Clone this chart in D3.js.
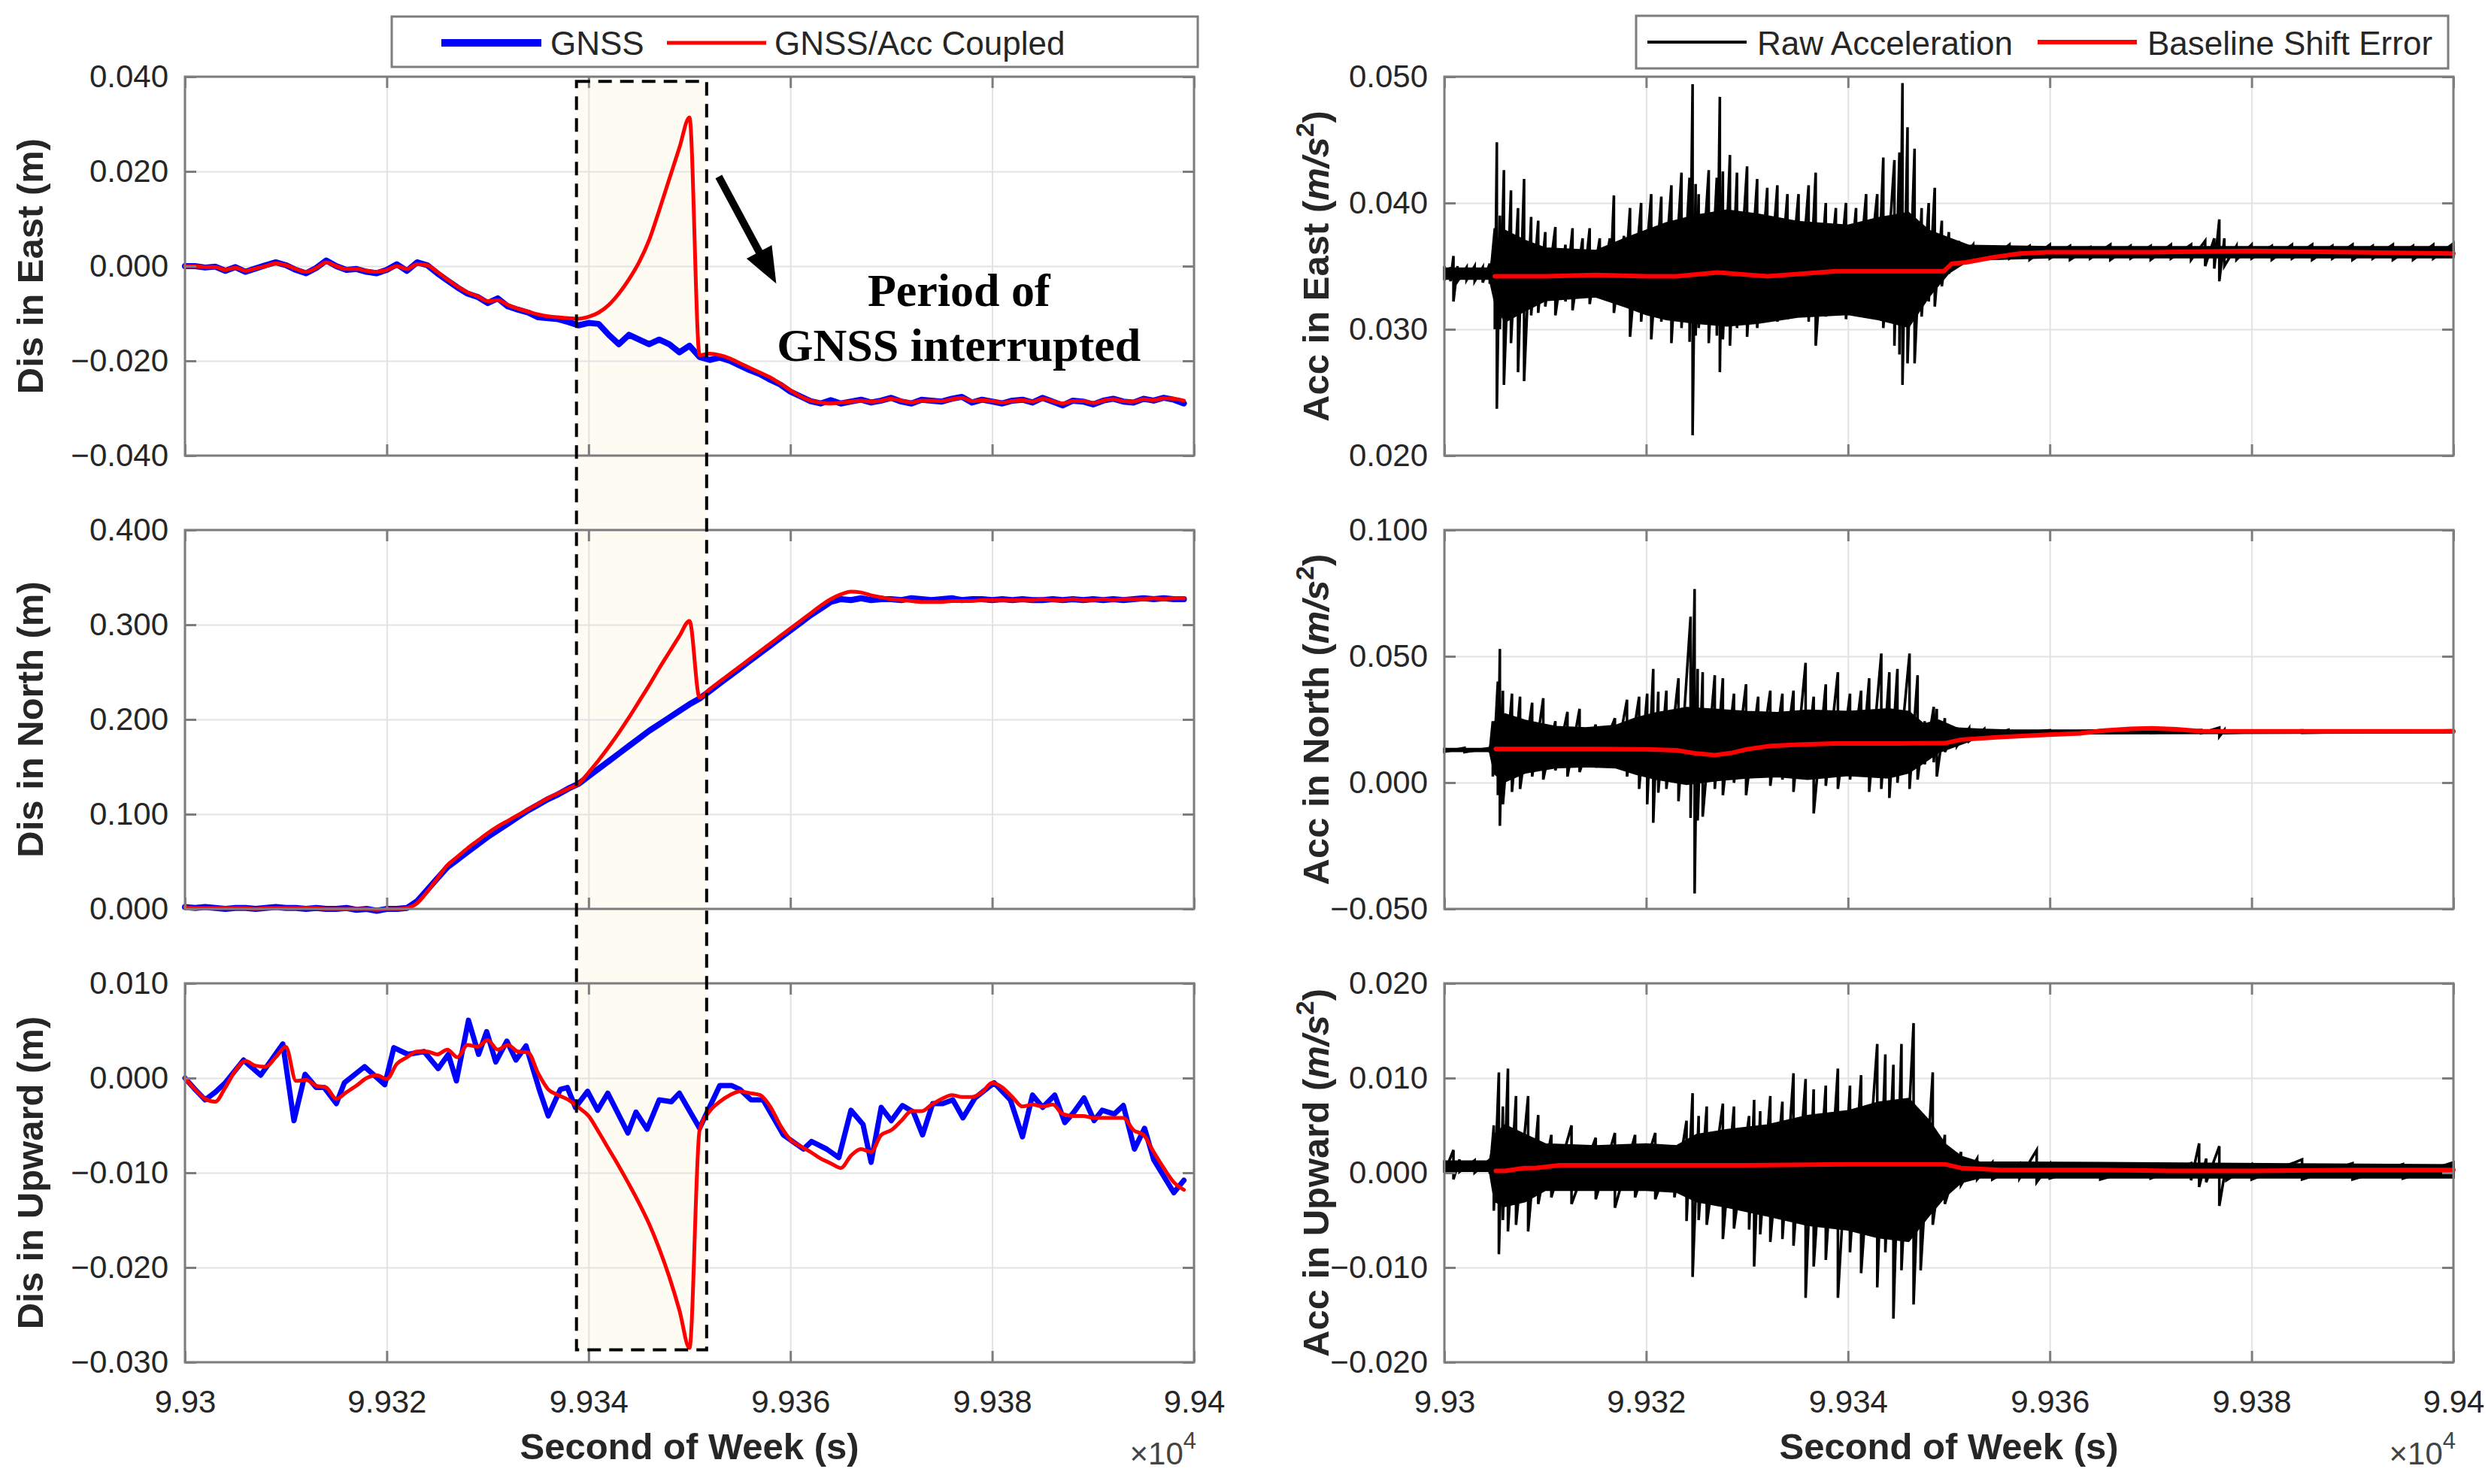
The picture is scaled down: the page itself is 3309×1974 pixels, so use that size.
<!DOCTYPE html>
<html><head><meta charset="utf-8">
<script src="https://cdn.jsdelivr.net/npm/d3@7"></script>
<style>body{margin:0;background:#fff}svg{display:block}</style>
</head><body><script>
// ---------------- DATA ----------------
const T0 = 99300;                       // second of week at axis origin
const xTicks = [99300, 99320, 99340, 99360, 99380, 99400];
const xTickLabels = ["9.93","9.932","9.934","9.936","9.938","9.94"];
const gnssEpochs = d3.range(0, 100);    // 1 Hz epochs, seconds after T0
const gap = [38.8, 51.7];               // GNSS interruption (s after T0)

const eastGnss = [
0.0000,0.0000,-0.0003,-0.0001,-0.0010,-0.0002,-0.0012,-0.0005,0.0002,0.0008,
0.0002,-0.0008,-0.0015,-0.0004,0.0012,0.0000,-0.0008,-0.0006,-0.0012,-0.0015,
-0.0008,0.0004,-0.0010,0.0008,0.0002,-0.0015,-0.0030,-0.0045,-0.0058,-0.0065,
-0.0078,-0.0068,-0.0085,-0.0092,-0.0098,-0.0108,-0.0110,-0.0112,-0.0118,-0.0125,
-0.0120,-0.0122,-0.0145,-0.0165,-0.0145,-0.0155,-0.0165,-0.0155,-0.0165,-0.0182,
-0.0168,-0.0192,-0.0198,-0.0193,-0.0200,-0.0210,-0.0220,-0.0228,-0.0240,-0.0250,
-0.0265,-0.0275,-0.0285,-0.0290,-0.0283,-0.0290,-0.0286,-0.0282,-0.0288,-0.0284,
-0.0278,-0.0286,-0.0290,-0.0282,-0.0284,-0.0286,-0.0280,-0.0276,-0.0288,-0.0282,
-0.0286,-0.0290,-0.0284,-0.0282,-0.0288,-0.0278,-0.0286,-0.0294,-0.0284,-0.0286,
-0.0292,-0.0284,-0.0280,-0.0286,-0.0288,-0.0280,-0.0284,-0.0278,-0.0282,-0.0290];
const eastCoupled = [
0.0000,0.0000,-0.0002,-0.0002,-0.0008,-0.0003,-0.0010,-0.0005,0.0000,0.0006,
0.0002,-0.0006,-0.0012,-0.0004,0.0008,0.0000,-0.0006,-0.0006,-0.0010,-0.0012,
-0.0008,0.0000,-0.0006,0.0004,0.0002,-0.0012,-0.0028,-0.0043,-0.0055,-0.0064,
-0.0074,-0.0072,-0.0082,-0.0090,-0.0096,-0.0102,-0.0106,-0.0108,-0.0110,-0.0111,
-0.0107,-0.0098,-0.0082,-0.0058,-0.0028,0.0008,0.0055,0.0118,0.0184,0.0250,
0.0314,-0.0188,-0.0185,-0.0188,-0.0195,-0.0205,-0.0215,-0.0225,-0.0235,-0.0248,
-0.0262,-0.0275,-0.0284,-0.0288,-0.0290,-0.0288,-0.0286,-0.0284,-0.0286,-0.0284,
-0.0280,-0.0284,-0.0288,-0.0284,-0.0284,-0.0285,-0.0281,-0.0278,-0.0285,-0.0283,
-0.0285,-0.0288,-0.0285,-0.0283,-0.0286,-0.0280,-0.0285,-0.0290,-0.0285,-0.0285,
-0.0289,-0.0284,-0.0281,-0.0285,-0.0286,-0.0281,-0.0283,-0.0279,-0.0280,-0.0284];

const northGnss = [
0.002,0.001,0.002,0.001,0.000,0.001,0.001,0.000,0.001,0.002,
0.001,0.001,0.000,0.001,0.000,0.000,0.001,-0.001,0.000,-0.002,
0.000,0.000,0.001,0.008,0.020,0.032,0.044,0.052,0.060,0.068,
0.076,0.083,0.090,0.097,0.104,0.110,0.116,0.121,0.127,0.132,
0.140,0.148,0.156,0.164,0.172,0.180,0.188,0.195,0.202,0.209,
0.216,0.222,0.230,0.238,0.246,0.254,0.262,0.270,0.278,0.286,
0.294,0.302,0.310,0.317,0.324,0.327,0.326,0.328,0.326,0.327,
0.327,0.326,0.328,0.327,0.326,0.327,0.328,0.326,0.327,0.327,
0.326,0.327,0.326,0.327,0.326,0.326,0.327,0.326,0.327,0.326,
0.327,0.326,0.327,0.326,0.327,0.328,0.327,0.328,0.327,0.327];
const northCoupled = [
0.002,0.001,0.001,0.001,0.001,0.001,0.001,0.000,0.001,0.001,
0.001,0.001,0.001,0.001,0.000,0.000,0.000,0.000,0.000,-0.001,
0.000,0.000,0.001,0.006,0.018,0.032,0.046,0.055,0.064,0.072,
0.080,0.087,0.093,0.099,0.105,0.111,0.117,0.122,0.127,0.132,
0.144,0.157,0.171,0.186,0.202,0.219,0.236,0.254,0.271,0.288,
0.304,0.223,0.232,0.240,0.248,0.256,0.264,0.272,0.280,0.288,
0.296,0.304,0.312,0.320,0.327,0.332,0.335,0.334,0.331,0.329,
0.327,0.326,0.325,0.324,0.324,0.324,0.325,0.325,0.325,0.326,
0.326,0.326,0.326,0.326,0.326,0.327,0.326,0.326,0.327,0.326,
0.326,0.327,0.326,0.327,0.327,0.327,0.328,0.327,0.328,0.328];

// Upward GNSS read as [s after T0, metres]
const upGnss = [
[0,0.0000],[1,-0.0012],[2,-0.0023],[3,-0.0015],[4,-0.0005],[5.8,0.0019],[7.5,0.0003],
[9.7,0.0036],[10.8,-0.0045],[11.9,0.0004],[13,-0.0010],[13.8,-0.0010],[15,-0.0027],
[15.8,-0.0005],[17.8,0.0012],[19.8,-0.0007],[20.7,0.0032],[22.1,0.0025],[23.7,0.0028],
[25.1,0.0010],[26.1,0.0025],[26.9,-0.0003],[28.1,0.0061],[29.1,0.0025],[29.9,0.0049],
[30.8,0.0017],[31.9,0.0039],[32.8,0.0019],[33.8,0.0034],[35.2,-0.0015],[36,-0.0040],
[37.2,-0.0012],[37.9,-0.0010],[38.7,-0.0031],[39.9,-0.0014],[40.9,-0.0034],[41.9,-0.0016],
[43.9,-0.0058],[44.7,-0.0036],[45.8,-0.0054],[47,-0.0023],[48.2,-0.0025],[49,-0.0016],
[51,-0.0053],[53,-0.0008],[54.2,-0.0008],[55,-0.0012],[56.1,-0.0023],[57.3,-0.0023],
[59.3,-0.0060],[61.3,-0.0075],[62.1,-0.0067],[63.6,-0.0075],[64.8,-0.0084],[66,-0.0034],
[67.2,-0.0049],[68,-0.0089],[69,-0.0031],[70,-0.0045],[71.1,-0.0029],[72.2,-0.0036],
[73.1,-0.0060],[74.1,-0.0027],[75.1,-0.0027],[76.1,-0.0023],[77.1,-0.0042],[78.3,-0.0021],
[80.2,-0.0005],[81.8,-0.0023],[83,-0.0062],[84,-0.0018],[85,-0.0031],[86.2,-0.0018],
[87.2,-0.0047],[88.1,-0.0036],[89.1,-0.0021],[90.1,-0.0045],[90.9,-0.0034],[92.1,-0.0038],
[93,-0.0029],[94.1,-0.0075],[95.1,-0.0053],[96,-0.0086],[98,-0.0121],[99,-0.0108]];
const upCoupled = [
0.0000,-0.0012,-0.0022,-0.0025,-0.0010,0.0008,0.0018,0.0013,0.0012,0.0022,
0.0033,-0.0003,-0.0002,-0.0008,-0.0010,-0.0022,-0.0015,-0.0008,0.0000,0.0003,
-0.0001,0.0015,0.0022,0.0028,0.0028,0.0025,0.0030,0.0022,0.0035,0.0033,
0.0040,0.0030,0.0035,0.0028,0.0027,0.0005,-0.0012,-0.0018,-0.0023,-0.0031,
-0.0040,-0.0057,-0.0075,-0.0093,-0.0112,-0.0132,-0.0154,-0.0180,-0.0210,-0.0245,
-0.0285,-0.0055,-0.0035,-0.0025,-0.0018,-0.0014,-0.0016,-0.0018,-0.0030,-0.0050,
-0.0065,-0.0072,-0.0078,-0.0085,-0.0090,-0.0095,-0.0082,-0.0075,-0.0078,-0.0060,
-0.0055,-0.0045,-0.0035,-0.0035,-0.0028,-0.0022,-0.0018,-0.0020,-0.0020,-0.0015,
-0.0005,-0.0010,-0.0020,-0.0030,-0.0028,-0.0030,-0.0028,-0.0038,-0.0040,-0.0040,
-0.0042,-0.0042,-0.0042,-0.0042,-0.0055,-0.0060,-0.0078,-0.0095,-0.0110,-0.0118];

// Raw acceleration peaks: [s after T0, max, min] (m/s^2)
const eastRaw = [
[0,0.0350,0.0339],[0.6,0.0349,0.0338],[0.9,0.0358,0.0322],[1.3,0.0350,0.0338],[2.2,0.0349,0.0339],
[3,0.0350,0.0338],[3.8,0.0349,0.0337],[4.5,0.0352,0.0336],[5.0,0.0380,0.0300],[5.2,0.0448,0.0237],
[5.5,0.0390,0.0300],[5.9,0.0426,0.0256],[6.6,0.0410,0.0289],[7.3,0.0396,0.0266],[7.9,0.0419,0.0259],
[8.6,0.0389,0.0311],[9.3,0.0386,0.0313],[10,0.0377,0.0318],[11,0.0381,0.0311],[12,0.0367,0.0322],
[12.7,0.0380,0.0315],[13.7,0.0372,0.0325],[14.4,0.0380,0.0320],[15.4,0.0372,0.0325],[16.4,0.0372,0.0327],
[16.8,0.0406,0.0313],[17.8,0.0374,0.0325],[18.4,0.0396,0.0294],[19.5,0.0400,0.0306],[20.5,0.0407,0.0292],
[21.5,0.0405,0.0306],[22.5,0.0414,0.0289],[23.5,0.0424,0.0301],[24.3,0.0420,0.0290],[24.6,0.0494,0.0216],
[24.9,0.0415,0.0295],[25.2,0.0407,0.0301],[26.2,0.0426,0.0289],[27.0,0.0420,0.0295],[27.3,0.0484,0.0266],
[27.6,0.0425,0.0292],[28.3,0.0438,0.0287],[29,0.0424,0.0301],[30,0.0429,0.0294],[31,0.0419,0.0301],
[32,0.0412,0.0306],[33,0.0414,0.0306],[34,0.0407,0.0308],[35.1,0.0407,0.0310],[36.1,0.0414,0.0306],
[36.8,0.0424,0.0287],[37.8,0.0400,0.0310],[38.8,0.0396,0.0313],[39.8,0.0400,0.0308],[40.8,0.0396,0.0315],
[41.8,0.0407,0.0322],[42.9,0.0407,0.0310],[43.5,0.0436,0.0301],[44.6,0.0434,0.0287],[45.1,0.0440,0.0280],
[45.4,0.0495,0.0256],[45.9,0.0460,0.0273],[46.6,0.0443,0.0273],[47.3,0.0396,0.0310],[48.0,0.0400,0.0322],
[48.6,0.0412,0.0318],[49.3,0.0386,0.0334],[50,0.0377,0.0344],[51,0.0370,0.0353],[52.4,0.0367,0.0355],
[54.4,0.0365,0.0357],[56,0.0367,0.0356],[58,0.0366,0.0355],[60,0.0367,0.0356],[62,0.0366,0.0355],
[64,0.0365,0.0356],[66,0.0367,0.0355],[68,0.0366,0.0356],[70,0.0366,0.0355],[72,0.0367,0.0356],
[74,0.0367,0.0355],[75.4,0.0370,0.0350],[76.3,0.0372,0.0348],[76.8,0.0387,0.0338],[77.3,0.0372,0.0350],
[78.5,0.0366,0.0355],[80,0.0367,0.0356],[82,0.0366,0.0355],[84,0.0367,0.0356],[86,0.0367,0.0355],
[88,0.0366,0.0356],[90,0.0367,0.0355],[92,0.0366,0.0356],[94,0.0367,0.0355],[96,0.0366,0.0355],
[98,0.0367,0.0356],[100,0.0368,0.0357]];
const northRaw = [
[0,0.0138,0.0122],[2,0.0137,0.0121],[4.5,0.0137,0.0120],[4.8,0.0243,0.0024],[5.3,0.0400,-0.0050],
[5.5,0.0529,-0.0171],[5.8,0.0364,-0.0086],[6.7,0.0352,-0.0037],[7.5,0.0340,-0.0025],[8.7,0.0316,0.0024],
[9.8,0.0334,0.0012],[11,0.0243,0.0048],[12.2,0.0280,0.0024],[13.4,0.0292,0.0042],[15,0.0230,0.0060],
[16.9,0.0255,0.0066],[18.1,0.0328,0.0024],[19.3,0.0340,-0.0025],[20.1,0.0352,-0.0086],[20.7,0.0450,-0.0159],
[21.2,0.0360,-0.0040],[22,0.0364,-0.0025],[23.2,0.0413,-0.0074],[24.4,0.0657,-0.0140],[24.8,0.0766,-0.0439],
[25.1,0.0450,-0.0150],[25.6,0.0437,-0.0135],[26.8,0.0425,-0.0025],[27.6,0.0413,-0.0050],[28.7,0.0352,-0.0001],
[29.9,0.0389,-0.0050],[31.1,0.0340,0.0024],[32.3,0.0364,-0.0013],[33.5,0.0352,0.0012],[34.6,0.0364,-0.0037],
[35.8,0.0474,0.0024],[36.6,0.0340,-0.0122],[37.8,0.0389,-0.0013],[39,0.0437,-0.0025],[40.2,0.0352,0.0012],
[41.3,0.0364,0.0024],[42.1,0.0413,-0.0037],[43.3,0.0511,-0.0025],[44.1,0.0437,-0.0061],[44.9,0.0450,-0.0001],
[46.1,0.0511,-0.0025],[46.9,0.0425,0.0012],[47.6,0.0243,0.0072],[48.5,0.0300,0.0080],[48.8,0.0292,0.0024],
[49.6,0.0255,0.0121],[50.8,0.0218,0.0145],[52,0.0215,0.0164],[53.5,0.0212,0.0182],[55.9,0.0209,0.0192],
[60,0.0207,0.0195],[65,0.0207,0.0196],[70,0.0208,0.0197],[75,0.0208,0.0196],[76.8,0.0218,0.0182],
[77.3,0.0208,0.0196],[85,0.0207,0.0197],[100,0.0207,0.0197]];
const upRaw = [
[0,0.0013,0.0000],[0.9,0.0024,-0.0007],[1.5,0.0014,0.0001],[3,0.0013,0.0000],[4.5,0.0014,-0.0001],
[4.9,0.0050,-0.0040],[5.4,0.0106,-0.0086],[5.8,0.0070,-0.0050],[6.3,0.0110,-0.0062],[7.1,0.0081,-0.0055],
[8.3,0.0081,-0.0062],[9.3,0.0061,-0.0033],[10.6,0.0040,-0.0026],[12.6,0.0050,-0.0033],[15,0.0037,-0.0028],
[16.9,0.0042,-0.0037],[18.9,0.0040,-0.0026],[20.9,0.0042,-0.0028],[22.8,0.0029,-0.0026],[24,0.0055,-0.0051],
[24.6,0.0084,-0.0110],[25.2,0.0060,-0.0050],[26,0.0070,-0.0055],[27.6,0.0073,-0.0070],[28.7,0.0070,-0.0059],
[30.2,0.0060,-0.0060],[30.7,0.0077,-0.0099],[31.3,0.0065,-0.0065],[32.3,0.0081,-0.0073],[33.5,0.0075,-0.0070],
[34.6,0.0105,-0.0077],[35.8,0.0099,-0.0132],[36.6,0.0088,-0.0099],[37.8,0.0092,-0.0092],[39,0.0110,-0.0132],
[40.2,0.0092,-0.0084],[41.3,0.0103,-0.0106],[42.9,0.0136,-0.0121],[43.7,0.0125,-0.0084],[44.5,0.0114,-0.0154],
[45.3,0.0136,-0.0103],[46.5,0.0158,-0.0139],[47.2,0.0062,-0.0103],[48.4,0.0106,-0.0055],[49.6,0.0040,-0.0033],
[51.2,0.0022,-0.0013],[52.8,0.0015,-0.0007],[54.3,0.0011,-0.0007],[57,0.0010,-0.0006],[58.7,0.0024,-0.0010],
[60,0.0009,-0.0006],[65,0.0009,-0.0007],[70,0.0008,-0.0006],[74,0.0010,-0.0008],[74.8,0.0031,-0.0015],
[75.5,0.0015,-0.0010],[76.8,0.0028,-0.0035],[77.5,0.0010,-0.0008],[80,0.0009,-0.0007],[85,0.0014,-0.0007],
[90,0.0010,-0.0007],[95,0.0009,-0.0006],[100,0.0011,-0.0006]];

// Dense (solid) part of the raw acceleration band: [s after T0, upper, lower]
const eastCore = [[0,0.0348,0.0340],[4.5,0.0348,0.0340],[5,0.0362,0.0322],[6,0.0378,0.0306],[8,0.0370,0.0315],
[10,0.0364,0.0323],[15,0.0362,0.0326],[18,0.0372,0.0318],[20,0.0378,0.0312],[22,0.0384,0.0308],
[25,0.0390,0.0305],[28,0.0394,0.0303],[31,0.0391,0.0305],[35,0.0385,0.0310],[40,0.0382,0.0312],
[43,0.0388,0.0308],[46,0.0392,0.0302],[48,0.0378,0.0326],[50,0.0372,0.0345],[52,0.0366,0.0355],
[60,0.0365,0.0357],[100,0.0365,0.0357]];
const northCore = [[0,0.0133,0.0125],[4.5,0.0133,0.0125],[5,0.0240,0.0035],[6,0.0270,0.0005],[8,0.0245,0.0040],
[11,0.0220,0.0060],[14,0.0215,0.0065],[17,0.0225,0.0060],[19,0.0255,0.0035],[21,0.0275,0.0015],
[24,0.0295,-0.0005],[27,0.0288,0.0010],[30,0.0280,0.0020],[33,0.0275,0.0025],[36,0.0285,0.0015],
[40,0.0280,0.0030],[44,0.0290,0.0020],[46,0.0280,0.0040],[47.5,0.0230,0.0080],[49,0.0245,0.0122],
[50.8,0.0214,0.0148],[53,0.0210,0.0180],[56,0.0206,0.0194],[100,0.0205,0.0199]];
const upCore = [[0,0.0012,0.0002],[4.5,0.0012,0.0002],[5,0.0040,-0.0030],[6,0.0050,-0.0035],[8,0.0040,-0.0030],
[10,0.0030,-0.0018],[15,0.0028,-0.0018],[20,0.0030,-0.0018],[23,0.0028,-0.0020],[25,0.0040,-0.0030],
[28,0.0045,-0.0036],[32,0.0050,-0.0045],[36,0.0060,-0.0055],[40,0.0065,-0.0060],[43,0.0074,-0.0068],
[46,0.0078,-0.0072],[48,0.0055,-0.0045],[49.6,0.0030,-0.0025],[51.2,0.0017,-0.0010],[53,0.0011,-0.0005],
[100,0.0008,-0.0005]];

// Baseline shift error: [s after T0, m/s^2]
const eastBase = [[5,0.0342],[10,0.0342],[15,0.0343],[20,0.0342],[23,0.0342],[27,0.0345],[32,0.0342],
[38.8,0.0346],[45,0.0346],[49.5,0.0346],[50.3,0.0352],[51.7,0.0353],[54.4,0.0357],[57,0.0360],[59.8,0.0361],
[70,0.0361],[80,0.0362],[90,0.0361],[100,0.0360]];
const northBase = [[5.1,0.0133],[10,0.0133],[15,0.0133],[20,0.0132],[23,0.0128],[25,0.0115],[26.8,0.0109],
[28.5,0.0118],[30,0.0132],[32.3,0.0145],[35,0.0150],[38.6,0.0155],[45,0.0155],[49.6,0.0156],[51.2,0.0170],
[55,0.0180],[59.1,0.0188],[63,0.0195],[65.4,0.0206],[68,0.0213],[70.1,0.0215],[72.5,0.0211],[74.8,0.0204],
[80,0.0203],[90,0.0203],[100,0.0203]];
const upBase = [[5.1,0.0002],[6,0.0002],[7.9,0.0005],[9,0.0005],[11.4,0.0008],[20,0.0008],[30,0.0008],
[40,0.0009],[49.6,0.0009],[51.2,0.0005],[55.1,0.0003],[65,0.0003],[72,0.0002],[80,0.0002],[90,0.0003],[100,0.0003]];

const leftLabels = ["Dis in East (m)", "Dis in North (m)", "Dis in Upward (m)"];
const rightLabels = ["Acc in East (", "Acc in North (", "Acc in Upward ("];
const leftDomains = [[-0.04,0.04],[0,0.4],[-0.03,0.01]];
const leftTicks = [[-0.04,-0.02,0,0.02,0.04],[0,0.1,0.2,0.3,0.4],[-0.03,-0.02,-0.01,0,0.01]];
const rightDomains = [[0.02,0.05],[-0.05,0.1],[-0.02,0.02]];
const rightTicks = [[0.02,0.03,0.04,0.05],[-0.05,0,0.05,0.1],[-0.02,-0.01,0,0.01,0.02]];
const legendLeft = ["GNSS", "GNSS/Acc Coupled"];
const legendRight = ["Raw Acceleration", "Baseline Shift Error"];

// ---------------- DRAW ----------------
const W = 3309, H = 1974;
const FONT = "'Liberation Sans', Arial, Helvetica, sans-serif";
const svg = d3.select("body").append("svg").attr("width", W).attr("height", H)
  .attr("font-family", FONT);
svg.append("rect").attr("width", W).attr("height", H).attr("fill", "#fff");

const tops = [102, 705, 1308], PH = 504;
const xL = d3.scaleLinear().domain([T0, T0 + 100]).range([246, 1588]);
const xR = d3.scaleLinear().domain([T0, T0 + 100]).range([1921, 3263]);
const yL = leftDomains.map((d, i) => d3.scaleLinear().domain(d).range([tops[i] + PH, tops[i]]));
const yR = rightDomains.map((d, i) => d3.scaleLinear().domain(d).range([tops[i] + PH, tops[i]]));

// interruption shading (behind everything)
const gx0 = xL(T0 + gap[0]), gx1 = xL(T0 + gap[1]);
const gy0 = yL[0](0.039), gy1 = yL[2](-0.0287);
svg.append("rect").attr("x", gx0).attr("y", gy0).attr("width", gx1 - gx0).attr("height", gy1 - gy0)
  .attr("fill", "#fefbf2");

const AX = "#7d7d7d", TXT = "#262626", GRID = "#e3e3e3";

function grid(x, y, yt) {
  const g = svg.append("g");
  const [a, b] = x.range(), [yb, yt0] = y.range();
  g.append("g").attr("transform", `translate(${a},0)`)
    .call(d3.axisLeft(y).tickValues(yt).tickSize(-(b - a)).tickFormat(""))
    .call(s => { s.select(".domain").remove(); s.selectAll("line").attr("stroke", GRID).attr("stroke-width", 2); });
  g.append("g").attr("transform", `translate(0,${yb})`)
    .call(d3.axisBottom(x).tickValues(xTicks).tickSize(-(yb - yt0)).tickFormat(""))
    .call(s => { s.select(".domain").remove(); s.selectAll("line").attr("stroke", GRID).attr("stroke-width", 2); });
}
function frame(x, y, yt, showX) {
  const [a, b] = x.range(), [yb, yt0] = y.range();
  const g = svg.append("g");
  const styleAx = s => {
    s.select(".domain").remove();
    s.selectAll("line").attr("stroke", AX).attr("stroke-width", 3);
    s.selectAll("text").attr("fill", TXT).attr("font-size", 42).attr("font-family", FONT);
  };
  g.append("g").attr("transform", `translate(${a},0)`)
    .call(d3.axisLeft(y).tickValues(yt).tickSize(-15).tickPadding(22).tickFormat(d3.format(".3f"))).call(styleAx);
  g.append("g").attr("transform", `translate(${b},0)`)
    .call(d3.axisRight(y).tickValues(yt).tickSize(-15).tickFormat("")).call(styleAx);
  g.append("g").attr("transform", `translate(0,${yt0})`)
    .call(d3.axisTop(x).tickValues(xTicks).tickSize(-15).tickFormat("")).call(styleAx);
  g.append("g").attr("transform", `translate(0,${yb})`)
    .call(d3.axisBottom(x).tickValues(xTicks).tickSize(-15).tickPadding(37)
      .tickFormat((d, i) => showX ? xTickLabels[i] : "")).call(styleAx);
  g.append("rect").attr("x", a).attr("y", yt0).attr("width", b - a).attr("height", yb - yt0)
    .attr("fill", "none").attr("stroke", AX).attr("stroke-width", 3);
}

// grids
for (let i = 0; i < 3; i++) { grid(xL, yL[i], leftTicks[i]); grid(xR, yR[i], rightTicks[i]); }

// left data
const lineU = (x, y, c) => d3.line().x((d, i) => x(T0 + gnssEpochs[i])).y(d => y(d)).curve(c || d3.curveLinear);
const lineP = (x, y, c) => d3.line().x(d => x(T0 + d[0])).y(d => y(d[1])).curve(c || d3.curveLinear);
function drawLine(path, d, color, w) {
  svg.append("path").attr("d", path(d)).attr("fill", "none").attr("stroke", color)
    .attr("stroke-width", w).attr("stroke-linejoin", "round").attr("stroke-linecap", "round");
}
const smooth = d3.curveMonotoneX;
drawLine(lineU(xL, yL[0]), eastGnss, "#0000ff", 8);
drawLine(lineU(xL, yL[0], smooth), eastCoupled, "#ff0000", 5);
drawLine(lineU(xL, yL[1]), northGnss, "#0000ff", 8);
drawLine(lineU(xL, yL[1], smooth), northCoupled, "#ff0000", 5);
drawLine(lineP(xL, yL[2]), upGnss, "#0000ff", 7);
drawLine(lineU(xL, yL[2], smooth), upCoupled, "#ff0000", 5);

// right data
function rawAcc(y, env, core) {
  const area = d3.area().x(d => xR(T0 + d[0])).y0(d => y(d[2])).y1(d => y(d[1]));
  svg.append("path").attr("d", area(core)).attr("fill", "#000").attr("stroke", "#000").attr("stroke-width", 3);
  const zig = d3.line().x(d => xR(T0 + d[0])).y(d => y(d[1]));
  svg.append("path").attr("d", zig(env.flatMap(d => [[d[0], d[1]], [d[0], d[2]]])))
    .attr("fill", "none").attr("stroke", "#000").attr("stroke-width", 3.5).attr("stroke-linejoin", "miter");
}
rawAcc(yR[0], eastRaw, eastCore); drawLine(lineP(xR, yR[0]), eastBase, "#ff0000", 6);
rawAcc(yR[1], northRaw, northCore); drawLine(lineP(xR, yR[1]), northBase, "#ff0000", 6);
rawAcc(yR[2], upRaw, upCore); drawLine(lineP(xR, yR[2]), upBase, "#ff0000", 6);

// frames
for (let i = 0; i < 3; i++) { frame(xL, yL[i], leftTicks[i], i === 2); frame(xR, yR[i], rightTicks[i], i === 2); }

// y labels
for (let i = 0; i < 3; i++) {
  const cy = tops[i] + PH / 2;
  svg.append("text").attr("transform", `translate(40,${cy}) rotate(-90)`).attr("text-anchor", "middle")
    .attr("dy", "0.35em").attr("font-size", 49).attr("font-weight", "bold").attr("fill", TXT).text(leftLabels[i]);
  const t = svg.append("text").attr("transform", `translate(1750,${cy}) rotate(-90)`).attr("text-anchor", "middle")
    .attr("dy", "0.35em").attr("font-size", 49).attr("font-weight", "bold").attr("fill", TXT);
  t.append("tspan").text(rightLabels[i]);
  t.append("tspan").attr("font-style", "italic").text("m/s");
  t.append("tspan").attr("font-size", 34).attr("dy", -20).text("2");
  t.append("tspan").attr("dy", 20).text(")");
}
// x labels
[xL, xR].forEach(x => {
  const [a, b] = x.range();
  svg.append("text").attr("x", (a + b) / 2).attr("y", 1941).attr("text-anchor", "middle")
    .attr("font-size", 49).attr("font-weight", "bold").attr("fill", TXT).text("Second of Week (s)");
  const t = svg.append("text").attr("x", b + 3).attr("y", 1948).attr("text-anchor", "end")
    .attr("font-size", 42).attr("fill", "#444");
  t.append("tspan").text("×10");
  t.append("tspan").attr("font-size", 31).attr("dy", -21).text("4");
});

// dashed interruption box
svg.append("rect").attr("x", gx0).attr("y", gy0).attr("width", gx1 - gx0).attr("height", gy1 - gy0)
  .attr("fill", "none").attr("stroke", "#000").attr("stroke-width", 4).attr("stroke-dasharray", "18,11");

// arrow + annotation
const p0 = [xL(T0 + 52.9), yL[0](0.0189)], p1 = [xL(T0 + 58.6), yL[0](-0.0037)];
const dx = p1[0] - p0[0], dy = p1[1] - p0[1], len = Math.hypot(dx, dy);
const ux = dx / len, uy = dy / len, hl = 48, hw = 19;
const bx = p1[0] - ux * hl, by = p1[1] - uy * hl;
svg.append("line").attr("x1", p0[0]).attr("y1", p0[1]).attr("x2", bx + ux * 4).attr("y2", by + uy * 4)
  .attr("stroke", "#000").attr("stroke-width", 10);
svg.append("polygon").attr("points",
  [[p1[0], p1[1]], [bx - uy * hw, by + ux * hw], [bx + uy * hw, by - ux * hw]].map(p => p.join(",")).join(" "))
  .attr("fill", "#000");
const annX = xL(T0 + 76.7);
svg.append("text").attr("x", annX).attr("y", yL[0](-0.0084)).attr("text-anchor", "middle")
  .attr("font-family", "'Liberation Serif','Times New Roman',serif").attr("font-weight", "bold")
  .attr("font-size", 62).attr("fill", "#000").text("Period of");
svg.append("text").attr("x", annX).attr("y", yL[0](-0.0200)).attr("text-anchor", "middle")
  .attr("font-family", "'Liberation Serif','Times New Roman',serif").attr("font-weight", "bold")
  .attr("font-size", 62).attr("fill", "#000").text("GNSS interrupted");

// legends
function legend(box, items) {
  svg.append("rect").attr("x", box[0]).attr("y", box[1]).attr("width", box[2] - box[0]).attr("height", box[3] - box[1])
    .attr("fill", "#fff").attr("stroke", AX).attr("stroke-width", 3);
  items.forEach(it => {
    svg.append("line").attr("x1", it.x1).attr("x2", it.x2).attr("y1", it.y).attr("y2", it.y)
      .attr("stroke", it.c).attr("stroke-width", it.w);
    svg.append("text").attr("x", it.tx).attr("y", it.ty).attr("font-size", 44).attr("fill", TXT).text(it.label);
  });
}
legend([521, 22, 1593, 89], [
  {x1: 587, x2: 720, y: 57, c: "#0000ff", w: 10, tx: 732, ty: 73, label: legendLeft[0]},
  {x1: 887, x2: 1019, y: 57, c: "#ff0000", w: 5, tx: 1030, ty: 73, label: legendLeft[1]}]);
legend([2176, 21, 3256, 91], [
  {x1: 2191, x2: 2323, y: 56, c: "#000", w: 4, tx: 2337, ty: 73, label: legendRight[0]},
  {x1: 2710, x2: 2842, y: 56, c: "#ff0000", w: 6, tx: 2856, ty: 73, label: legendRight[1]}]);
</script></body></html>
